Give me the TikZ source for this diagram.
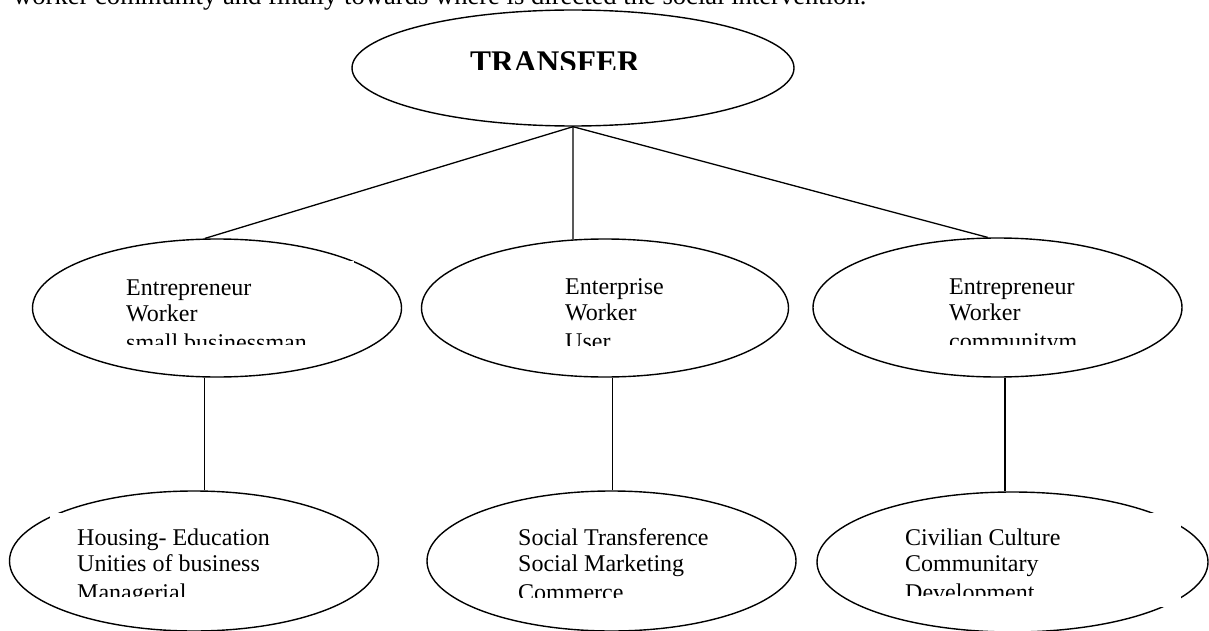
\documentclass[tikz,border=0pt]{standalone}
\usepackage{fontspec}
\setmainfont{Liberation Serif}
\usetikzlibrary{shapes.geometric}
\tikzset{
  ell/.style={draw, ellipse, line width=1.4pt, inner sep=0pt},
  conn/.style={line width=1.3pt},
  txt/.style={inner sep=0pt, anchor=base west, font=\fontsize{24}{26}\selectfont},
  gapfill/.style={fill=white, draw=none}
}
\newcommand{\threelines}[3]{\vtop{\hbox{#1}\hbox{#2}\kern3pt\hbox{#3}}}
\begin{document}
\begin{tikzpicture}[x=1pt, y=-1pt]
\clip (0,0) rectangle (1209,631);
\fill[white] (0,0) rectangle (1209,631);

% top line of running text (clipped by the page)
\node[inner sep=0pt, anchor=base west, font=\fontsize{26.6}{30}\selectfont] (head) at (13,5)
  {worker community and finally towards where is directed the social intervention.};

% ellipses
\node[ell, minimum width=442pt, minimum height=116pt] (top) at (573,68) {};
\node[ell, minimum width=369pt, minimum height=138pt] (m1) at (217,308) {};
\node[ell, minimum width=367pt, minimum height=138pt] (m2) at (605,308) {};
\node[ell, minimum width=369pt, minimum height=139pt] (m3) at (997.5,307.5) {};
\node[ell, minimum width=369pt, minimum height=140pt] (b1) at (194,561) {};
\node[ell, minimum width=369pt, minimum height=140pt] (b2) at (611.5,561) {};
\node[ell, minimum width=391pt, minimum height=140pt] (b3) at (1012.5,562) {};

% small breaks in outlines
\fill[gapfill] (300,261) rectangle (354,300);
\fill[gapfill] (50,513) rectangle (100,560);
\fill[gapfill] (1140,513) rectangle (1181,607);

% connectors
\draw[conn] (top.south) -- (m1.100);
\draw[conn] (top.south) -- (m2.115);
\draw[conn] (top.south) -- (m3.98);
\draw[conn] (m1.260) -- (m1.260 |- b1.north);
\draw[conn] (m2.276.6) -- (m2.276.6 |- b2.north);
\draw[conn] (m3.276.2) -- (m3.276.2 |- b3.north);

% texts (clipped like the original text boxes)
\begin{scope}
\clip (400,30) rectangle (750,70);
\node[inner sep=0pt, anchor=base west, font=\fontsize{31.5}{34}\selectfont\bfseries] (ttop) at (470,73) {TRANSFER};
\end{scope}
\begin{scope}
\clip (100,260) rectangle (400,344);
\node[txt] (t1) at (126,295) {\threelines{Entrepreneur}{Worker}{small businessman}};
\end{scope}
\begin{scope}
\clip (540,260) rectangle (790,345);
\node[txt] (t2) at (565,294) {\threelines{Enterprise}{Worker}{User}};
\end{scope}
\begin{scope}
\clip (920,260) rectangle (1180,344);
\node[txt] (t3) at (949,294) {\threelines{Entrepreneur}{Worker}{communitym}};
\end{scope}
\begin{scope}
\clip (60,510) rectangle (370,596);
\node[txt] (t4) at (77,545) {\threelines{Housing- Education}{Unities of business}{Managerial}};
\end{scope}
\begin{scope}
\clip (490,510) rectangle (790,597);
\node[txt] (t5) at (518,545) {\threelines{Social Transference}{Social Marketing}{Commerce}};
\end{scope}
\begin{scope}
\clip (890,510) rectangle (1180,595);
\node[txt] (t6) at (905,545) {\threelines{Civilian Culture}{Communitary}{Development}};
\end{scope}
\end{tikzpicture}
\end{document}
